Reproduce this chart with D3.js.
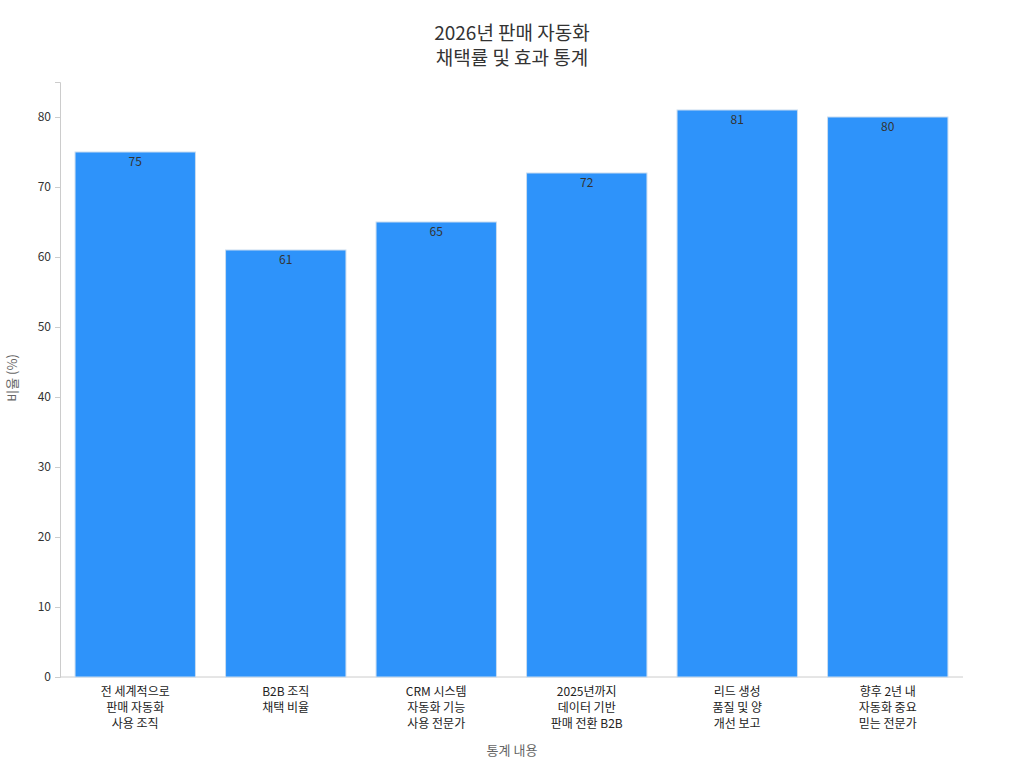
<!DOCTYPE html>
<html><head><meta charset="utf-8">
<script src="https://cdn.jsdelivr.net/npm/d3@7"></script>
<style>body{margin:0;background:#fff;font-family:"Noto Sans CJK KR","Noto Sans",sans-serif;}</style>
</head><body><svg id="c" width="1024" height="768"></svg>
<script>
const categories = [
  ["전 세계적으로","판매 자동화","사용 조직"],
  ["B2B 조직","채택 비율"],
  ["CRM 시스템","자동화 기능","사용 전문가"],
  ["2025년까지","데이터 기반","판매 전환 B2B"],
  ["리드 생성","품질 및 양","개선 보고"],
  ["향후 2년 내","자동화 중요","믿는 전문가"]
];
const values = [75, 61, 65, 72, 81, 80];
const yTicks = [0,10,20,30,40,50,60,70,80];

const svg = d3.select("#c");
const m = {l:60, r:963, t:80, b:677};
const x = d3.scaleBand().domain(d3.range(categories.length)).range([m.l, m.r]).paddingInner(0.2).paddingOuter(0.1);
const y = d3.scaleLinear().domain([0, 85]).range([m.b, m.b - 85*7]);

const f = "'Noto Sans CJK KR','Noto Sans',sans-serif";
svg.append("text").attr("x",512).attr("y",40).attr("text-anchor","middle").attr("font-size",19).attr("font-family",f).attr("fill","#333").text("2026년 판매 자동화");
svg.append("text").attr("x",512).attr("y",65).attr("text-anchor","middle").attr("font-size",19).attr("font-family",f).attr("fill","#333").text("채택률 및 효과 통계");

const ya = svg.append("g").attr("transform",`translate(${m.l},0)`).call(d3.axisLeft(y).tickValues(yTicks).tickSize(5).tickPadding(4));
ya.selectAll("text").attr("font-size",12).attr("font-family",f).attr("fill","#333");
ya.selectAll("line,path").attr("stroke","#ccc");
const xa = svg.append("g").attr("transform",`translate(0,${m.b})`).call(d3.axisBottom(x).tickSize(0).tickFormat(""));
xa.selectAll("path").attr("stroke","#ccc").attr("d",`M${m.l},0H${m.r}`);

svg.selectAll("rect.b").data(values).join("rect").attr("class","b")
  .attr("x",(d,i)=>x(i)).attr("width",x.bandwidth())
  .attr("y",d=>y(d)).attr("height",d=>y(0)-y(d))
  .attr("fill","#2E93FA").attr("stroke","#c8dcf0").attr("stroke-width",1);
svg.selectAll("text.v").data(values).join("text").attr("class","v")
  .attr("x",(d,i)=>x(i)+x.bandwidth()/2).attr("y",d=>y(d)+14)
  .attr("text-anchor","middle").attr("font-size",12).attr("font-family",f).attr("fill","#333").text(d=>d);

categories.forEach((lines,i)=>{
  const t = svg.append("text").attr("text-anchor","middle").attr("font-size",12).attr("font-family",f).attr("fill","#222");
  lines.forEach((s,j)=>t.append("tspan").attr("x",x(i)+x.bandwidth()/2).attr("y",696+j*16).text(s));
});
svg.append("text").attr("x",512).attr("y",755).attr("text-anchor","middle").attr("font-size",13).attr("font-family",f).attr("fill","#666").text("통계 내용");
svg.append("text").attr("transform","translate(17,378) rotate(-90)").attr("text-anchor","middle").attr("font-size",13).attr("font-family",f).attr("fill","#666").text("비율 (%)");
</script></body></html>
